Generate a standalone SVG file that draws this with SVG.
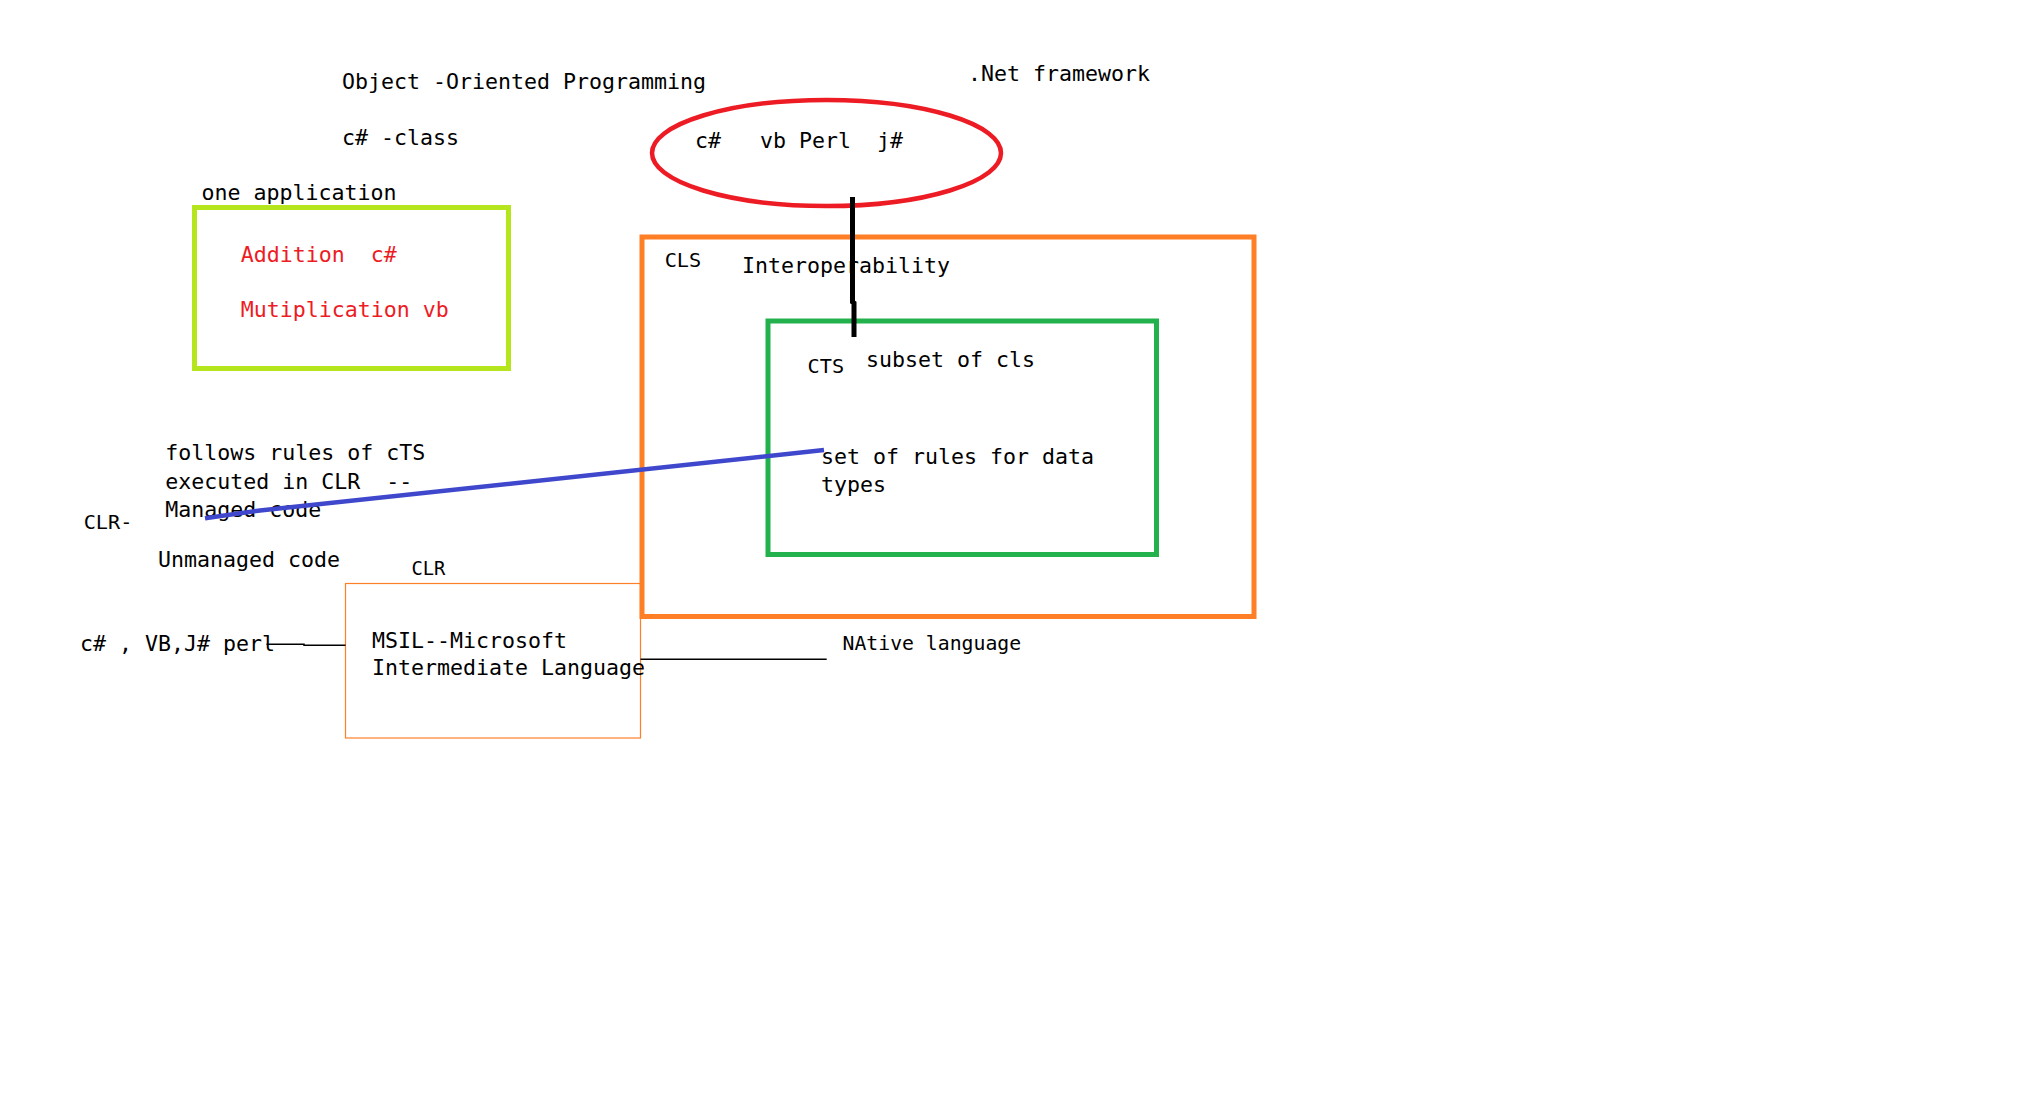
<svg xmlns="http://www.w3.org/2000/svg" width="2043" height="1104" viewBox="0 0 2043 1104">
<style>
text{font-family:"DejaVu Sans Mono","Liberation Mono",monospace;font-size:21.6px;fill:#000;white-space:pre}
.red{fill:#ed1c24}
.s20{font-size:20.2px}
.s19{font-size:19.8px}
.s18{font-size:18.8px}
.box{fill:none}
</style>
<rect x="0" y="0" width="2043" height="1104" fill="#fff"/>
<g id="labels">
<text x="342" y="88.5">Object -Oriented Programming</text>
<text x="342" y="144.5">c# -class</text>
<text x="968" y="80.5">.Net framework</text>
</g>
<g id="languages">
<ellipse cx="826.5" cy="153" rx="174.5" ry="53" class="box" stroke="#ed1c24" stroke-width="4.5"/>
<text y="148.3"><tspan x="695">c#</tspan><tspan x="760">vb Perl</tspan><tspan x="877">j#</tspan></text>
</g>
<g id="one-application">
<text x="201.5" y="199.5">one application</text>
<rect x="194.5" y="207.5" width="314" height="161" class="box" stroke="#b5e61d" stroke-width="5"/>
<text class="red" x="240.7" y="262">Addition<tspan x="370.7">c#</tspan></text>
<text class="red" x="240.7" y="317.3">Mutiplication vb</text>
</g>
<g id="cls">
<rect x="642" y="237" width="612" height="379.5" class="box" stroke="#ff7f27" stroke-width="5"/>
<text class="s20" x="664.7" y="266.7">CLS</text>
<text x="742" y="273.3">Interoperability</text>
</g>
<g id="cts">
<rect x="768" y="321" width="388.5" height="233.5" class="box" stroke="#22b14c" stroke-width="5"/>
<text class="s20" x="807.6" y="372.7">CTS</text>
<text x="866" y="366.7">subset of cls</text>
<text x="821" y="463.5">set of rules for data</text>
<text x="821" y="491.5">types</text>
</g>
<g id="clr-notes">
<text x="165.3" y="460.3">follows rules of cTS</text>
<text x="165.3" y="488.5">executed in CLR<tspan x="386.3">--</tspan></text>
<text x="165.3" y="516.7">Managed code</text>
<text class="s20" x="83.7" y="528.5">CLR-</text>
<text x="158" y="566.8">Unmanaged code</text>
<text class="s18" x="411.5" y="575">CLR</text>
<text x="80" y="650.7">c# , VB,J# perl</text>
<text class="s19" x="842.5" y="649.5">NAtive language</text>
</g>
<g id="msil">
<rect x="345.5" y="583.5" width="295" height="154.5" class="box" stroke="#ff7f27" stroke-width="1.2"/>
<text x="371.9" y="647.5">MSIL--Microsoft</text>
<text x="371.9" y="675">Intermediate Language</text>
</g>
<g id="connectors" fill="none">
<polyline points="852.5,197 852.5,302 854,303 854,337" stroke="#000" stroke-width="5"/>
<polyline points="205,518.3 260,510.5 824,450" stroke="#3f48cc" stroke-width="4.5"/>
<polyline points="266.5,644.3 304,644.3 304,645.3 345.5,645.3" stroke="#000" stroke-width="1.5"/>
<line x1="640.5" y1="659.2" x2="826.7" y2="659.2" stroke="#000" stroke-width="1.5"/>
</g>
</svg>
